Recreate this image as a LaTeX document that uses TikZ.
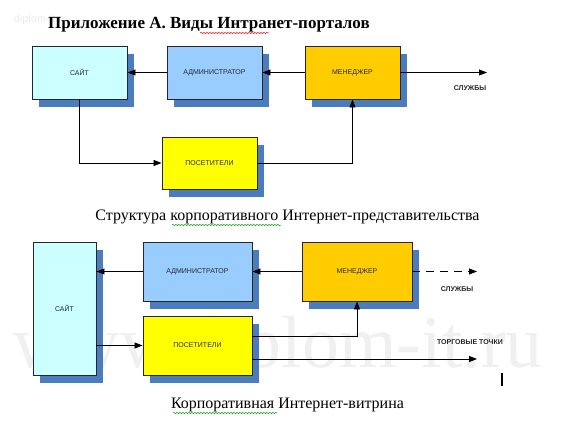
\documentclass[tikz,border=0pt]{standalone}
\usepackage{fontspec}
\setmainfont{Liberation Serif}
\newfontfamily\boxfont{Liberation Sans}
\usetikzlibrary{arrows.meta,shadows,calc,decorations.pathmorphing}
\definecolor{shadowblue}{RGB}{74,124,190}
\definecolor{sitecol}{RGB}{204,255,255}
\definecolor{admcol}{RGB}{153,204,255}
\definecolor{mancol}{RGB}{255,204,0}
\definecolor{viscol}{RGB}{255,255,0}
\definecolor{boxtext}{RGB}{40,40,50}
\definecolor{wmark}{RGB}{236,236,236}
\tikzset{
  blk/.style={draw=black!85, line width=0.9pt, inner sep=0pt, font=\boxfont\fontsize{7}{8}\selectfont, text=boxtext,
    drop shadow={shadow xshift=7pt, shadow yshift=-8pt, fill=shadowblue, opacity=1}},
  conn/.style={line width=0.8pt, draw=black, -{Triangle[length=8pt,width=6pt]}},
  lbl/.style={font=\boxfont\bfseries\fontsize{7}{8}\selectfont, text=black!85},
  captxt/.style={font=\fontsize{16}{18}\selectfont, text=black},
  wavy/.style={decorate, decoration={snake, amplitude=0.6pt, segment length=3pt}, line width=0.5pt}
}
\begin{document}
\begin{tikzpicture}[x=1pt,y=-1pt]
\useasboundingbox (0,0) rectangle (572,422);
\fill[white] (0,0) rectangle (572,422);
% watermarks
\node[font=\boxfont\fontsize{11}{12}\selectfont, text=wmark] (wm1) at (41,20) {diplom-it.ru};
\node[font=\fontsize{74}{80}\selectfont, text=black!6] (wm2) at (278,350) {www.diplom-it.ru};
% title
\node[font=\bfseries\fontsize{17}{20}\selectfont] (title) at (209,25) {Приложение А. Виды Интранет-порталов};
\draw[wavy, red] (200,33) -- (269,33);
% top diagram
\node[blk, fill=sitecol, minimum width=95pt, minimum height=53pt] (site1) at (79.5,72.5) {САЙТ};
\node[blk, fill=admcol, minimum width=95pt, minimum height=53pt] (adm1) at (214.5,72.5) {АДМИНИСТРАТОР};
\node[blk, fill=mancol, minimum width=95pt, minimum height=53pt] (man1) at (352.5,72.5) {МЕНЕДЖЕР};
\node[blk, fill=viscol, minimum width=95pt, minimum height=52pt] (vis1) at (209.5,163) {ПОСЕТИТЕЛИ};
\coordinate (svc1) at (487,72.5);
\node[lbl] (svclbl1) at (470,88) {СЛУЖБЫ};
\draw[conn] (adm1) -- (site1);
\draw[conn] (man1) -- (adm1);
\draw[conn] (man1) -- (svc1);
\draw[conn] (site1.south) |- (vis1.west);
\draw[conn] (vis1.east) -| (man1.south);
\node[captxt] (cap1) at (287.5,217) {Структура корпоративного Интернет-представительства};
\draw[wavy, green!60!black] (172,225) -- (281,225);
% bottom diagram
\node[blk, fill=sitecol, minimum width=63pt, minimum height=133pt] (site2) at (64.5,308.5) {САЙТ};
\node[blk, fill=admcol, minimum width=109pt, minimum height=59pt] (adm2) at (197.5,271.5) {АДМИНИСТРАТОР};
\node[blk, fill=mancol, minimum width=110pt, minimum height=59pt] (man2) at (357,271.5) {МЕНЕДЖЕР};
\node[blk, fill=viscol, minimum width=109pt, minimum height=59pt] (vis2) at (197.5,345.5) {ПОСЕТИТЕЛИ};
\coordinate (svc2) at (477,271.5);
\coordinate (shops) at (477,359);
\node[lbl] (svclbl2) at (457,289) {СЛУЖБЫ};
\node[lbl] (shoplbl) at (470,342) {ТОРГОВЫЕ ТОЧКИ};
\draw[conn] (adm2) -- (site2.east |- adm2.west);
\draw[conn] (man2) -- (adm2);
\draw[conn, dash pattern=on 8pt off 6pt] (man2) -- (svc2);
\draw[conn] (site2.east |- vis2.west) -- (vis2.west);
\draw[conn] ($(vis2.east)+(0,-9.5)$) -| (man2.south);
\draw[conn] ($(vis2.east)+(0,13.5)$) -- (shops);
\coordinate (cur1) at (502,373);
\coordinate (cur2) at (502,386);
\draw[line width=1.3pt] (cur1) -- (cur2);
\node[captxt] (cap2) at (287.5,405) {Корпоративная Интернет-витрина};
\draw[wavy, green!60!black] (173,413) -- (277,413);
\end{tikzpicture}
\end{document}
